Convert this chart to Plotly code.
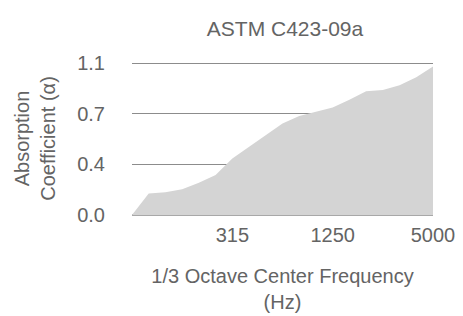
import plotly.graph_objects as go

frequencies = ["80", "100", "125", "160", "200", "250", "315", "400", "500", "630",
               "800", "1000", "1250", "1600", "2000", "2500", "3150", "4000", "5000"]
absorption = [0.0, 0.156, 0.165, 0.186, 0.234, 0.291, 0.41, 0.496, 0.58, 0.663,
              0.719, 0.748, 0.779, 0.837, 0.897, 0.907, 0.941, 1.0, 1.078]
x_tick_labels = ["315", "1250", "5000"]
y_max = 1.1
y_tick_values = [0, y_max / 3, 2 * y_max / 3, y_max]
y_tick_labels = ["0.0", "0.4", "0.7", "1.1"]

font_family = "Liberation Sans, Arial, sans-serif"
text_color = "#646464"

# page body has an 8px default margin, so the figure is sized/offset accordingly
fig = go.Figure()
fig.add_trace(go.Scatter(
    x=frequencies, y=absorption, mode="lines", fill="tozeroy",
    fillcolor="#d4d4d4", line=dict(width=0, color="#d4d4d4"),
    hoverinfo="x+y", showlegend=False,
))

fig.update_layout(
    width=455, height=308,
    margin=dict(l=124, r=30, t=54, b=101, autoexpand=False),
    paper_bgcolor="white", plot_bgcolor="white",
    font=dict(family=font_family, size=20, color=text_color),
    title=dict(text="ASTM C423-09a", x=277 / 455, xanchor="center",
               y=1 - 27.5 / 308, yanchor="bottom", automargin=False,
               font=dict(family=font_family, size=21, color=text_color)),
)
fig.update_xaxes(
    type="category", range=[0, len(frequencies) - 1],
    tickmode="array", tickvals=x_tick_labels, ticktext=x_tick_labels,
    showgrid=False, zeroline=False, showline=False, ticks="",
    ticklabelstandoff=6, automargin=False,
    title=dict(text="1/3 Octave Center Frequency<br>(Hz)", standoff=23,
               font=dict(size=20, color=text_color)),
)
fig.update_yaxes(
    range=[0, 1.11], tickmode="array", tickvals=y_tick_values, ticktext=y_tick_labels,
    showgrid=True, gridcolor="#8c8c8c", gridwidth=1.2,
    zeroline=True, zerolinecolor="#a8a8a8", zerolinewidth=2,
    showline=False, ticks="", ticklabelstandoff=26, automargin=False,
    title=dict(text="Absorption<br>Coefficient (α)", standoff=16,
               font=dict(size=20, color=text_color)),
)

fig.write_html("out.html")
